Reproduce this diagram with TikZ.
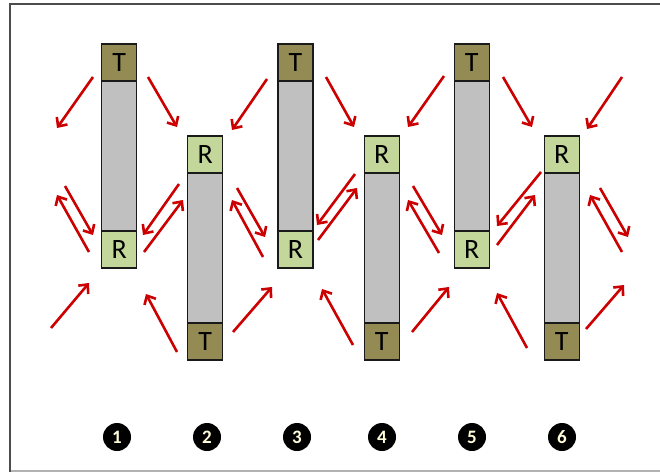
\documentclass[tikz,border=0pt]{standalone}
\usepackage{fontspec}
\setmainfont{Carlito}
\usetikzlibrary{arrows.meta}
\definecolor{tcol}{HTML}{948A54}
\definecolor{rcol}{HTML}{C4D79B}
\definecolor{barcol}{HTML}{C0C0C0}
\definecolor{arrcol}{HTML}{CC0000}
\definecolor{edgecol}{HTML}{1A1A1A}
\tikzset{
  tbox/.style={draw=edgecol, line width=1.4pt, fill=tcol, minimum width=35pt, minimum height=37pt, inner sep=0pt, font=\fontsize{28}{28}\selectfont},
  rbox/.style={draw=edgecol, line width=1.4pt, fill=rcol, minimum width=35pt, minimum height=37pt, inner sep=0pt, font=\fontsize{28}{28}\selectfont},
  barbox/.style={draw=edgecol, line width=1.4pt, fill=barcol, minimum width=35pt, minimum height=150pt, inner sep=0pt},
  redarrow/.style={draw=arrcol, line width=2.6pt, -{Straight Barb[length=7pt,width=13pt]}},
  numdot/.style={circle, fill=black, minimum size=28pt, inner sep=0pt, text=white!85!yellow, font=\fontsize{19}{19}\selectfont\bfseries}
}
\newcommand\myarrow[3]{\coordinate (#1s) at #2; \coordinate (#1e) at #3; \draw[redarrow] (#1s) -- (#1e);}
\begin{document}
\begin{tikzpicture}[x=1pt,y=-1pt]
\useasboundingbox (0,0) rectangle (660,473);
% frame
\draw[gray!60, line width=1.5pt] (10,471) -- (660,471);
\draw[black!70, line width=2.6pt] (10,472) -- (10,4) -- (661,4);

% odd columns: T top, R bottom
\foreach \n/\c in {1/119.2,3/295.5,5/471.7}{
  \node[barbox] (bar\n) at (\c,156) {};
  \node[tbox] (t\n) at (\c,62.5) {T};
  \node[rbox] (r\n) at (\c,249.3) {R};
}
% even columns: R top, T bottom
\foreach \n/\c in {2/205.2,4/381.7,6/561.8}{
  \node[barbox] (bar\n) at (\c,248) {};
  \node[rbox] (r\n) at (\c,154.5) {R};
  \node[tbox] (t\n) at (\c,341.5) {T};
}

% top row
\myarrow{a1}{(93,77)}{(57,128)}
\myarrow{a2}{(148,77)}{(177,127)}
\myarrow{a3}{(267,79)}{(232,130)}
\myarrow{a4}{(326,77)}{(354,127)}
\myarrow{a5}{(444,76)}{(408,127)}
\myarrow{a6}{(503,77)}{(532,127)}
\myarrow{a7}{(622,77)}{(587,129)}
% middle row
\myarrow{a8}{(65,186)}{(93,235)}
\myarrow{a9}{(89,252)}{(57,195)}
\myarrow{a10}{(179,184)}{(143,235)}
\myarrow{a11}{(144,252)}{(183,200)}
\myarrow{a12}{(237,188)}{(265,237)}
\myarrow{a13}{(263,257)}{(232,200)}
\myarrow{a14}{(355,174)}{(317,225)}
\myarrow{a15}{(318,240)}{(357,188)}
\myarrow{a16}{(413,186)}{(442,235)}
\myarrow{a17}{(439,253)}{(408,200)}
\myarrow{a18}{(541,172)}{(497,226)}
\myarrow{a19}{(497,245)}{(535,195)}
\myarrow{a20}{(600,188)}{(628,237)}
\myarrow{a21}{(622,252)}{(590,195)}
% bottom row
\myarrow{a22}{(51,328)}{(89,283)}
\myarrow{a23}{(177,352)}{(146,294)}
\myarrow{a24}{(233,332)}{(272,287)}
\myarrow{a25}{(353,345)}{(322,289)}
\myarrow{a26}{(412,332)}{(449,287)}
\myarrow{a27}{(527,348)}{(497,293)}
\myarrow{a28}{(586,329)}{(624,285)}

% numbers
\foreach \n/\x in {1/117,2/207,3/297,4/382,5/472,6/562}{
  \node[numdot] (num\n) at (\x,437) {\n};
}
\end{tikzpicture}
\end{document}
